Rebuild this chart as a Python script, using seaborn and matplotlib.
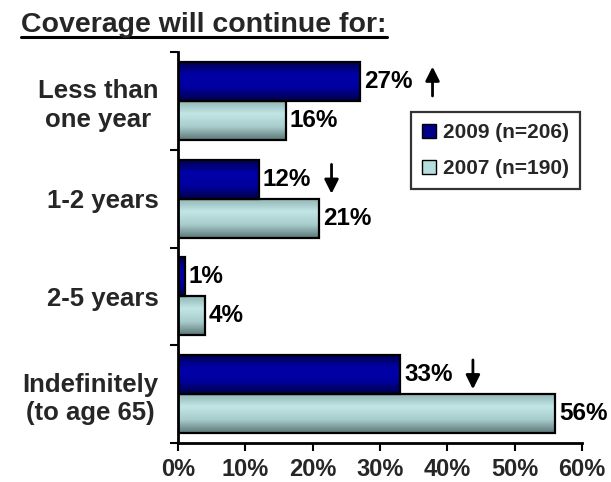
import numpy as np
import pandas as pd
import matplotlib
matplotlib.use("Agg")
import matplotlib.pyplot as plt
from matplotlib.colors import LinearSegmentedColormap
from matplotlib.lines import Line2D
import seaborn as sns

categories = ["Less than\none year", "1-2 years", "2-5 years", "Indefinitely\n(to age 65)"]
years = ["2009 (n=206)", "2007 (n=190)"]
values_2009 = [27, 12, 1, 33]
values_2007 = [16, 21, 4, 56]
trend_2009 = ["up", "down", None, "down"]
x_ticks = [0, 10, 20, 30, 40, 50, 60]

df = pd.DataFrame({
    "category": categories * 2,
    "year": [years[0]] * 4 + [years[1]] * 4,
    "value": values_2009 + values_2007,
})

sns.set_theme(style="white")
plt.rcParams["font.family"] = ["Liberation Sans", "DejaVu Sans"]
plt.rcParams["font.weight"] = "bold"

navy = "#000088"
aqua = "#B6DEDE"

fig = plt.figure(figsize=(6.11, 4.82), dpi=100)
ax = fig.add_axes([178 / 611, 1 - 443 / 482, 404 / 611, 391 / 482])

sns.barplot(data=df, x="value", y="category", hue="year", orient="h",
            palette=[navy, aqua], edgecolor="black", linewidth=1.6,
            width=0.8, legend=False, ax=ax, saturation=1)

ax.set_xlim(0, 60)
ax.set_ylim(3.5, -0.5)

# vertical shading inside every bar
stops = {
    0: ["#00004A", "#0000A8", "#0000A0", "#000048"],
    1: ["#8FB2B2", "#C2E6E6", "#A8CCCC", "#5E7878"],
}
for i, cont in enumerate(ax.containers):
    cmap = LinearSegmentedColormap.from_list(f"shade{i}", stops[i])
    grad = np.linspace(0, 1, 64).reshape(-1, 1)
    for p in cont:
        x0, y0, w, h = p.get_x(), p.get_y(), p.get_width(), p.get_height()
        im = ax.imshow(grad, cmap=cmap, aspect="auto", interpolation="bilinear",
                       extent=(x0, x0 + w, y0 + h, y0), zorder=p.get_zorder() - 0.01)
        im.set_clip_path(p)
        p.set_facecolor("none")
ax.set_xlim(0, 60)
ax.set_ylim(3.5, -0.5)
ax.set_aspect("auto")

# value labels
for cont, vals in zip(ax.containers, [values_2009, values_2007]):
    ax.bar_label(cont, labels=[f"{v}%" for v in vals], padding=3,
                 fontsize=17.5, fontweight="bold", color="black")

# change arrows beside the 2009 values
for i, (v, t) in enumerate(zip(values_2009, trend_2009)):
    if t is None:
        continue
    yc = i - 0.2
    xa = v + 10.8
    if t == "up":
        start, end = (xa, yc + 0.15), (xa, yc - 0.15)
    else:
        start, end = (xa, yc - 0.15), (xa, yc + 0.15)
    ax.annotate("", xy=end, xytext=start,
                arrowprops=dict(arrowstyle="-|>,head_length=0.7,head_width=0.35",
                                color="black", lw=2, shrinkA=0, shrinkB=0))

# axes styling
for s in ["top", "right"]:
    ax.spines[s].set_visible(False)
for s in ["left", "bottom"]:
    ax.spines[s].set_color("black")
    ax.spines[s].set_linewidth(2)

ax.set_xticks(x_ticks)
ax.set_xticklabels([f"{t}%" for t in x_ticks], fontsize=17, fontweight="bold")
ax.tick_params(axis="x", bottom=True, direction="out", length=6, width=1.5,
               color="black", pad=5)
ax.set_yticks(range(len(categories)))
ax.set_yticklabels(categories, fontsize=18.5, fontweight="bold", linespacing=1.25,
                   multialignment="center")
ax.tick_params(axis="y", which="major", left=False, length=0, pad=14)
ax.set_yticks([-0.5, 0.5, 1.5, 2.5, 3.5], minor=True)
ax.tick_params(axis="y", which="minor", left=True, direction="out", length=6,
               width=1.5, color="black")
ax.set_xlabel("")
ax.set_ylabel("")

handles = [Line2D([], [], marker="s", linestyle="none", markersize=10,
                  markerfacecolor=c, markeredgecolor="black", markeredgewidth=1)
           for c in [navy, aqua]]
leg = ax.legend(handles, years, loc="upper right", bbox_to_anchor=(0.995, 0.847),
                borderaxespad=0, frameon=True, fancybox=False, handlelength=0.6,
                handletextpad=0.35, borderpad=0.55, labelspacing=0.8,
                prop={"weight": "bold", "size": 15})
leg.get_frame().set_edgecolor("black")
leg.get_frame().set_linewidth(1.6)

# underlined heading
title = fig.text(21 / 611, 1 - 25 / 482, "Coverage will continue for:", fontsize=20.5,
                 fontweight="bold", ha="left", va="center")
fig.canvas.draw()
bb = title.get_window_extent().transformed(fig.transFigure.inverted())
fig.add_artist(Line2D([bb.x0, bb.x1], [1 - 36.5 / 482, 1 - 36.5 / 482],
                      color="black", lw=2.2, transform=fig.transFigure))

fig.savefig("out.png", dpi=100)
